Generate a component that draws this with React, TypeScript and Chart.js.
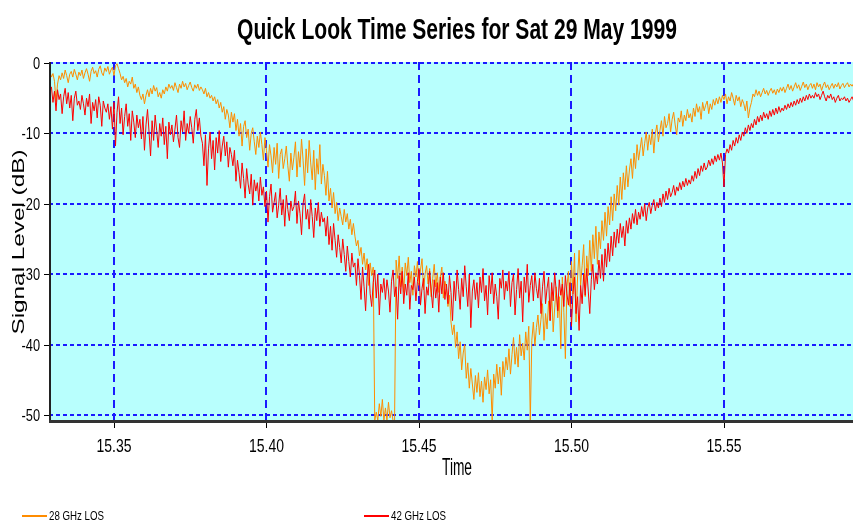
import React, { useEffect, useRef } from 'react';
import { Chart, registerables } from 'chart.js';

Chart.register(...registerables);

const chartTitle = 'Quick Look Time Series for Sat 29 May 1999';
const xAxisTitle = 'Time';
const yAxisTitle = 'Signal Level (dB)';
const seriesNames = ['28 GHz LOS', '42 GHz LOS'];
const seriesColors = ['#ff8c00', '#ff0000'];

const startTime = 15.329;
const sampleStep = 0.0005;
const xMin = 15.3287;
const xMax = 15.5923;
const yMin = -50.86;
const yMax = 0.14;
const xTicks = [15.35, 15.4, 15.45, 15.5, 15.55];
const yTicks = [0, -10, -20, -30, -40, -50];

const ghz28 = [
  -1.2, -2.0, -1.5, -2.6, -5.5, -3.0, -1.8, -2.4, -1.4, -2.2, -1.0, -1.8, -2.8, -1.6, -1.2, -2.0, -0.9, -1.6, -2.4, -1.3,
  -1.8, -1.0, -2.2, -1.4, -0.8, -1.6, -2.6, -1.2, -0.6, -1.5, -1.1, -2.0, -0.9, -0.4, -1.4, -1.8, -0.7, -1.2, -0.5, -1.6,
  -1.0, -0.6, -1.8, -0.4, -0.1, -0.8, -1.5, -2.4, -1.9, -2.8, -2.2, -3.4, -2.6, -3.0, -2.0, -3.6, -3.0, -4.2, -3.4, -4.6,
  -5.2, -4.4, -5.8, -4.6, -3.8, -4.8, -3.6, -4.4, -3.2, -4.0, -3.5, -4.8, -4.2, -5.0, -3.8, -4.4, -3.4, -4.0, -3.0, -3.6,
  -3.2, -3.9, -2.8, -3.5, -4.2, -3.0, -3.6, -2.6, -3.4, -2.9, -3.8, -3.2, -2.7, -3.5, -4.0, -3.1, -3.6, -3.0, -3.9, -3.4,
  -3.8, -4.4, -3.6, -4.8, -4.2, -5.0, -4.6, -5.4, -4.8, -5.8, -5.2, -6.4, -5.6, -7.0, -6.2, -8.0, -6.6, -7.4, -9.2, -7.0,
  -8.4, -7.2, -9.6, -8.0, -10.4, -8.6, -11.8, -9.0, -8.2, -10.6, -9.4, -12.4, -10.0, -9.2, -11.2, -13.0, -10.4, -12.0, -9.8, -11.6,
  -13.8, -10.6, -12.4, -14.8, -11.6, -13.2, -15.6, -12.0, -14.4, -11.4, -16.4, -13.0, -12.2, -15.0, -13.6, -11.8, -14.6, -16.8, -12.8, -15.2,
  -13.4, -11.2, -16.2, -12.6, -14.8, -10.8, -13.8, -17.4, -12.2, -15.6, -11.0, -14.2, -16.6, -12.4, -18.0, -13.6, -15.8, -11.6, -17.2, -14.4,
  -16.0, -18.8, -15.4, -19.6, -17.8, -20.6, -18.4, -21.4, -19.8, -22.4, -20.6, -21.8, -23.0, -20.8, -22.6, -21.4, -23.6, -22.2, -24.4, -22.8,
  -24.6, -26.0, -25.2, -27.4, -26.2, -28.6, -27.0, -29.4, -27.8, -31.6, -28.4, -30.2, -29.0, -50.8, -49.6, -50.8, -48.4, -50.2, -47.8, -50.8,
  -49.0, -50.8, -48.2, -50.4, -49.4, -50.8, -50.8, -28.0, -30.6, -27.4, -31.8, -29.0, -32.6, -28.4, -30.2, -27.6, -31.2, -29.6, -33.0, -28.8,
  -30.4, -28.2, -31.6, -29.4, -27.8, -32.2, -30.0, -28.8, -31.4, -29.2, -33.2, -30.6, -28.6, -31.8, -29.8, -32.6, -30.4, -29.0, -33.4, -31.0,
  -32.0, -34.6, -33.0, -36.8, -38.6, -37.2, -40.4, -38.2, -42.0, -39.6, -43.6, -41.2, -40.0, -44.8, -42.6, -46.2, -43.4, -45.6, -47.8, -44.4,
  -46.8, -44.0, -47.4, -45.2, -48.2, -44.6, -46.4, -43.6, -47.0, -45.0, -50.8, -44.2, -46.2, -42.8, -45.6, -43.2, -47.2, -42.4, -44.6, -41.8,
  -43.6, -40.6, -44.2, -41.4, -39.0, -42.8, -40.4, -43.2, -38.6, -41.6, -39.8, -42.2, -38.2, -40.8, -37.4, -50.8, -39.4, -36.8, -40.2, -37.6,
  -35.8, -38.6, -36.4, -34.2, -39.4, -35.6, -37.8, -33.8, -36.6, -32.6, -38.2, -34.8, -31.8, -36.2, -33.2, -40.6, -30.4, -35.4, -42.0, -31.8,
  -29.6, -34.6, -28.2, -32.8, -27.0, -36.8, -30.4, -26.6, -31.6, -28.8, -25.8, -33.2, -27.4, -30.2, -25.2, -29.6, -24.4, -27.8, -23.2, -28.6,
  -24.0, -26.4, -22.4, -25.2, -21.2, -24.6, -20.4, -23.0, -19.0, -22.4, -18.6, -21.0, -17.4, -20.2, -16.2, -19.4, -15.6, -18.0, -14.6, -17.6,
  -15.2, -13.6, -16.4, -12.8, -15.0, -11.6, -13.8, -12.2, -10.6, -13.2, -11.4, -9.8, -12.4, -10.2, -11.6, -9.4, -12.8, -10.0, -8.8, -11.2,
  -9.6, -8.2, -10.4, -7.6, -9.2, -8.6, -7.2, -9.8, -8.0, -7.0, -8.8, -10.2, -7.8, -8.4, -6.8, -9.0, -7.4, -8.2, -6.6, -7.8,
  -7.2, -8.4, -6.4, -7.6, -5.8, -7.0, -6.2, -8.0, -5.6, -6.8, -6.0, -5.4, -7.2, -5.8, -6.6, -5.2, -6.0, -5.0, -5.8, -4.8,
  -5.6, -4.6, -5.2, -4.4, -5.8, -4.8, -5.4, -4.2, -5.0, -6.0, -4.6, -5.4, -4.8, -6.2, -5.2, -5.8, -6.8, -5.4, -7.8, -6.4,
  -5.6, -4.4, -4.8, -3.8, -4.6, -4.0, -4.8, -4.2, -3.6, -4.4, -3.9, -4.6, -4.0, -3.6, -4.3, -3.8, -4.5, -3.7, -4.2, -3.5,
  -4.0, -3.4, -4.2, -3.6, -3.0, -3.8, -3.2, -4.0, -3.4, -2.8, -3.6, -3.1, -3.9, -3.3, -2.7, -3.5, -3.0, -3.8, -3.2, -2.9,
  -3.6, -3.0, -3.8, -2.8, -3.4, -3.0, -3.9, -3.2, -2.7, -3.5, -3.1, -3.8, -3.3, -2.9, -3.6, -3.0, -3.4, -2.8, -3.7, -3.2,
  -2.9, -3.5, -3.1, -2.8, -3.4, -3.0, -3.3, -2.9,
];

const ghz42 = [
  -4.2, -3.4, -5.6, -4.0, -6.8, -3.8, -5.2, -4.4, -7.2, -4.8, -3.6, -5.8, -4.2, -6.4, -4.6, -8.2, -5.0, -4.0, -6.0, -5.4,
  -6.6, -4.6, -5.8, -7.4, -5.0, -6.2, -4.4, -8.6, -5.6, -6.8, -5.2, -7.8, -4.8, -6.0, -9.0, -5.4, -6.4, -7.0, -5.8, -8.0,
  -6.2, -9.4, -5.6, -11.8, -7.0, -4.8, -8.6, -6.4, -10.2, -7.6, -5.8, -9.0, -7.2, -11.0, -6.8, -8.4, -10.6, -7.4, -9.2, -8.0,
  -10.8, -7.6, -12.4, -8.8, -6.6, -9.8, -13.2, -8.2, -11.0, -7.4, -9.6, -12.0, -8.6, -10.4, -7.8, -11.6, -9.0, -13.6, -8.4, -10.2,
  -8.8, -11.2, -9.4, -7.4, -10.6, -12.0, -8.2, -9.8, -6.8, -11.0, -8.6, -10.0, -7.6, -9.2, -11.4, -8.0, -6.6, -9.6, -7.8, -10.4,
  -11.4, -14.6, -10.2, -17.4, -12.2, -9.8, -13.6, -11.0, -15.2, -10.6, -12.8, -9.6, -14.0, -11.8, -10.4, -13.2, -11.2, -14.8, -12.0, -13.0,
  -14.6, -12.4, -16.8, -13.8, -15.6, -17.8, -14.2, -16.4, -19.2, -15.0, -17.2, -18.6, -15.8, -20.2, -16.6, -18.2, -17.0, -19.6, -16.2, -18.8,
  -17.6, -20.4, -18.2, -22.6, -19.0, -17.2, -21.2, -19.8, -18.4, -22.0, -20.2, -17.8, -21.6, -19.4, -23.2, -18.8, -20.8, -22.4, -19.6, -21.0,
  -20.4, -18.2, -22.8, -19.6, -21.4, -24.4, -20.0, -18.6, -22.2, -20.8, -23.6, -19.4, -21.8, -24.8, -20.6, -22.4, -19.8, -23.2, -21.2, -22.6,
  -22.0, -24.6, -21.8, -25.8, -23.2, -26.6, -22.8, -25.2, -27.6, -24.4, -26.2, -28.4, -25.0, -27.2, -29.6, -26.0, -28.2, -30.4, -27.0, -29.0,
  -28.4, -31.6, -27.8, -30.2, -33.6, -29.0, -31.8, -35.2, -30.4, -28.6, -32.8, -34.6, -31.2, -29.4, -33.4, -30.0, -35.8, -31.4, -32.6, -30.6,
  -33.6, -30.8, -32.4, -35.4, -31.0, -29.4, -33.2, -31.8, -36.4, -30.2, -32.8, -29.6, -34.2, -31.4, -33.0, -29.8, -35.0, -31.6, -32.2, -30.4,
  -33.8, -31.0, -29.2, -34.4, -32.0, -30.6, -35.6, -31.8, -33.0, -29.6, -32.4, -34.8, -30.8, -33.4, -31.2, -35.4, -30.4, -32.8, -29.8, -33.6,
  -31.4, -34.2, -30.2, -32.6, -36.6, -31.0, -33.8, -29.4, -32.2, -35.0, -30.6, -33.2, -28.8, -31.8, -34.6, -30.0, -37.6, -32.4, -30.8, -33.6,
  -31.2, -34.8, -30.4, -32.6, -29.2, -33.8, -31.6, -35.8, -30.2, -32.8, -29.8, -34.2, -31.4, -33.2, -36.4, -30.6, -32.0, -29.4, -33.6, -31.0,
  -32.4, -29.6, -34.6, -31.2, -30.0, -35.8, -32.2, -29.2, -33.4, -31.0, -36.8, -30.4, -32.6, -28.6, -34.0, -31.6, -30.2, -33.8, -29.8, -32.0,
  -33.4, -30.6, -35.6, -31.8, -29.6, -34.2, -32.0, -30.4, -36.6, -31.2, -33.8, -29.8, -32.4, -35.2, -30.8, -33.0, -31.4, -34.6, -30.2, -32.8,
  -34.4, -31.2, -37.4, -32.6, -30.4, -35.6, -33.2, -38.0, -31.6, -34.2, -30.0, -33.0, -29.2, -32.4, -35.6, -30.8, -28.6, -32.2, -29.8, -31.4,
  -28.0, -30.6, -27.2, -31.0, -26.4, -29.0, -25.6, -28.2, -24.6, -27.4, -24.0, -26.2, -23.6, -25.6, -22.8, -24.8, -23.2, -26.0, -22.4, -24.2,
  -22.0, -23.6, -21.4, -22.8, -20.8, -23.0, -21.2, -22.2, -20.4, -21.8, -20.0, -22.4, -20.6, -19.8, -21.4, -20.2, -19.4, -21.0, -19.8, -20.6,
  -19.2, -20.4, -18.6, -19.8, -18.2, -19.4, -17.8, -19.0, -18.4, -17.4, -18.8, -17.6, -18.2, -17.0, -18.0, -16.8, -17.6, -16.4, -17.4, -16.6,
  -17.2, -16.0, -16.8, -15.4, -16.4, -15.0, -16.0, -14.6, -15.4, -14.2, -15.2, -14.8, -13.8, -14.6, -13.6, -14.4, -13.2, -14.0, -13.0, -13.8,
  -12.8, -14.2, -17.6, -13.0, -12.2, -12.8, -11.6, -12.4, -11.0, -11.8, -10.6, -11.4, -10.2, -11.0, -9.8, -10.4, -9.2, -10.0, -8.8, -9.6,
  -8.6, -9.2, -8.0, -8.8, -7.6, -8.4, -7.4, -8.2, -7.0, -7.8, -7.2, -8.0, -6.8, -7.6, -6.6, -7.4, -6.4, -7.2, -6.2, -7.0,
  -6.4, -6.8, -6.0, -6.6, -5.8, -6.4, -5.6, -6.2, -5.4, -6.0, -5.2, -5.8, -5.0, -5.6, -4.8, -5.4, -4.6, -5.2, -4.4, -5.0,
  -4.6, -5.0, -4.2, -4.8, -4.4, -5.2, -4.6, -4.0, -4.8, -5.4, -4.6, -5.0, -4.4, -5.2, -4.8, -5.6, -5.0, -4.6, -5.4, -5.0,
  -5.2, -4.8, -5.4, -5.0, -5.6, -5.2, -4.8, -5.4,
];

const FONT = '"Liberation Sans", Arial, sans-serif';

function fitText(
  ctx: CanvasRenderingContext2D,
  text: string,
  x: number,
  y: number,
  font: string,
  targetWidth: number,
  align: 'left' | 'center' | 'right',
  rotate = 0,
) {
  ctx.save();
  ctx.font = font;
  const w = ctx.measureText(text).width;
  const s = targetWidth / w;
  ctx.translate(x, y);
  if (rotate) ctx.rotate(rotate);
  ctx.scale(s, 1);
  ctx.textAlign = align;
  ctx.fillText(text, 0, 0);
  ctx.restore();
}

const decorPlugin = {
  id: 'decor',
  beforeDatasetsDraw(chart: any) {
    const { ctx, chartArea: a, scales } = chart;
    ctx.save();
    ctx.fillStyle = '#b8fffd';
    ctx.fillRect(a.left, a.top, a.right - a.left, a.bottom - a.top);
    ctx.strokeStyle = '#1a1aff';
    ctx.lineWidth = 2;
    ctx.setLineDash([4, 3]);
    for (const v of yTicks) {
      const y = Math.round(scales.y.getPixelForValue(v));
      ctx.beginPath();
      ctx.moveTo(a.left, y);
      ctx.lineTo(a.right, y);
      ctx.stroke();
    }
    ctx.setLineDash([8, 5]);
    for (const v of xTicks) {
      const x = Math.round(scales.x.getPixelForValue(v));
      ctx.beginPath();
      ctx.moveTo(x, a.top);
      ctx.lineTo(x, a.bottom);
      ctx.stroke();
    }
    ctx.restore();
  },
  afterDraw(chart: any) {
    const { ctx, chartArea: a, scales } = chart;
    ctx.save();
    ctx.strokeStyle = '#222';
    ctx.lineWidth = 2;
    ctx.beginPath();
    ctx.moveTo(a.left + 1, a.top);
    ctx.lineTo(a.left + 1, a.bottom);
    ctx.stroke();
    ctx.strokeStyle = '#333';
    ctx.lineWidth = 3;
    ctx.beginPath();
    ctx.moveTo(a.left, a.bottom + 0.5);
    ctx.lineTo(a.right, a.bottom + 0.5);
    ctx.stroke();
    ctx.strokeStyle = '#000';
    ctx.lineWidth = 1;
    for (const v of xTicks) {
      const x = Math.round(scales.x.getPixelForValue(v)) + 0.5;
      ctx.beginPath();
      ctx.moveTo(x, a.bottom + 2);
      ctx.lineTo(x, a.bottom + 7);
      ctx.stroke();
    }
    for (const v of yTicks) {
      const y = Math.round(scales.y.getPixelForValue(v)) + 0.5;
      ctx.beginPath();
      ctx.moveTo(a.left - 5, y);
      ctx.lineTo(a.left, y);
      ctx.stroke();
    }
    ctx.fillStyle = '#000';
    ctx.textBaseline = 'alphabetic';
    fitText(ctx, chartTitle, 457, 39, `bold 29px ${FONT}`, 440, 'center');
    for (const v of xTicks) {
      const x = scales.x.getPixelForValue(v);
      fitText(ctx, v.toFixed(2), x, 452, `19px ${FONT}`, 35, 'center');
    }
    fitText(ctx, xAxisTitle, 457, 475, `24px ${FONT}`, 30, 'center');
    ctx.save();
    ctx.font = `16px ${FONT}`;
    for (const v of yTicks) {
      const y = scales.y.getPixelForValue(v);
      const t = String(v);
      const w = ctx.measureText(t).width * 0.8;
      fitText(ctx, t, 40, y + 6, `16px ${FONT}`, w, 'right');
    }
    ctx.restore();
    fitText(ctx, yAxisTitle, 24, 242, `17px ${FONT}`, 185, 'center', -Math.PI / 2);
    const legendX = [22, 364];
    seriesNames.forEach((name, i) => {
      ctx.strokeStyle = seriesColors[i];
      ctx.lineWidth = 2;
      ctx.beginPath();
      ctx.moveTo(legendX[i], 516);
      ctx.lineTo(legendX[i] + 25, 516);
      ctx.stroke();
      ctx.fillStyle = '#000';
      fitText(ctx, name, legendX[i] + 27, 520, `12.5px ${FONT}`, 55, 'left');
    });
    ctx.restore();
  },
};

export default function App() {
  const ref = useRef<HTMLCanvasElement | null>(null);
  useEffect(() => {
    document.body.style.margin = '0';
    const canvas = ref.current;
    if (!canvas) return;
    const timeOf = (i: number) => startTime + i * sampleStep;
    const chart = new Chart(canvas, {
      type: 'line',
      data: {
        datasets: [
          {
            label: seriesNames[0],
            data: ghz28.map((v, i) => ({ x: timeOf(i), y: v })),
            borderColor: seriesColors[0],
            borderWidth: 1,
            pointRadius: 0,
            tension: 0,
            order: 2,
          },
          {
            label: seriesNames[1],
            data: ghz42.map((v, i) => ({ x: timeOf(i), y: v })),
            borderColor: seriesColors[1],
            borderWidth: 1,
            pointRadius: 0,
            tension: 0,
            order: 1,
          },
        ],
      },
      options: {
        animation: false,
        responsive: false,
        devicePixelRatio: 1,
        layout: { padding: { top: 62, right: 0, bottom: 0, left: 0 } },
        plugins: {
          legend: { display: false },
          title: { display: false },
          tooltip: { enabled: false },
        },
        scales: {
          x: {
            type: 'linear',
            min: xMin,
            max: xMax,
            grid: { display: false },
            border: { display: false },
            ticks: { display: false },
            afterFit: (s: any) => {
              s.height = 104;
            },
          },
          y: {
            type: 'linear',
            min: yMin,
            max: yMax,
            grid: { display: false },
            border: { display: false },
            ticks: { display: false },
            afterFit: (s: any) => {
              s.width = 49;
            },
          },
        },
      },
      plugins: [decorPlugin],
    } as any);
    return () => chart.destroy();
  }, []);
  return (
    <div style={{ width: 853, height: 525 }}>
      <canvas ref={ref} width={853} height={525} style={{ display: 'block' }} />
    </div>
  );
}
